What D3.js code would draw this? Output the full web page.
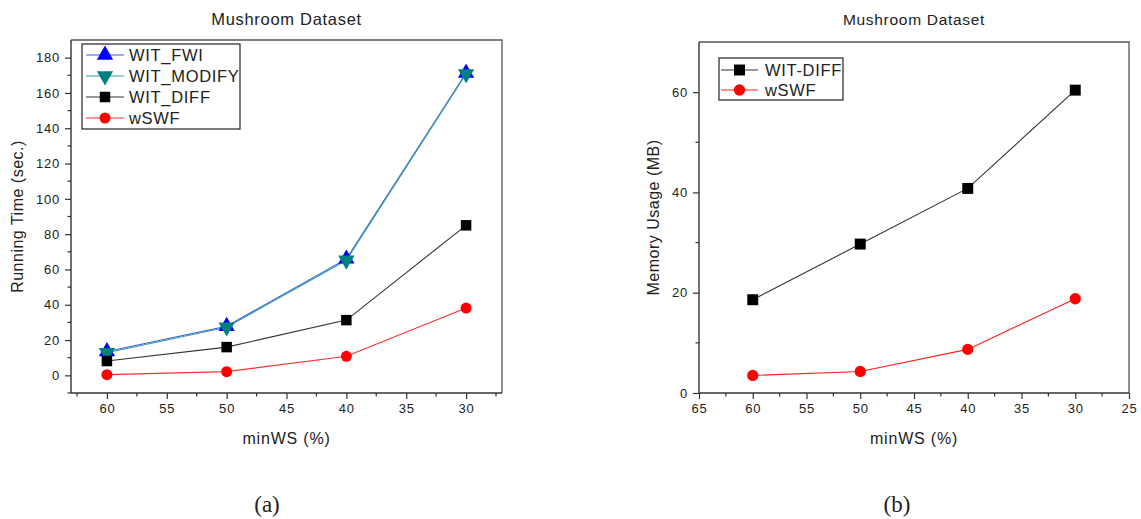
<!DOCTYPE html>
<html><head><meta charset="utf-8">
<script src="https://cdn.jsdelivr.net/npm/d3@7"></script>
<style>
body{margin:0;background:#fff;}
svg{display:block;}
text{font-family:"Liberation Sans",Arial,sans-serif;fill:#222;}
text.cap{font-family:"Liberation Serif","DejaVu Serif",serif;}
</style></head><body>
<svg id="chart" width="1141" height="519"></svg>
<script>
// ---- Data ----
const minWS = [60, 50, 40, 30];
// Chart (a): running time (sec.)
const timeFWI    = [13.5, 27.8, 66, 171.3];
const timeModify = [12.8, 27.3, 65.2, 170.8];
const timeDiff   = [8.1, 16, 31.3, 85];
const timeWSWF   = [0.4, 2.1, 10.8, 38.1];
// Chart (b): memory usage (MB)
const memDiff = [18.6, 29.7, 40.8, 60.4];
const memWSWF = [3.5, 4.3, 8.7, 18.8];
// Tick labels
const ticksAY = [0, 20, 40, 60, 80, 100, 120, 140, 160, 180];
const ticksAX = [60, 55, 50, 45, 40, 35, 30];
const ticksBY = [0, 20, 40, 60];
const ticksBX = [65, 60, 55, 50, 45, 40, 35, 30, 25];

const svg = d3.select("#chart");

function markerPath(shape, size){
  const t = {square:d3.symbolSquare, circle:d3.symbolCircle, tri:d3.symbolTriangle, triDown:d3.symbolTriangle}[shape];
  return d3.symbol().type(t).size(size)();
}

function drawChart(cfg){
  const g = svg.append("g");
  const {x0,x1,y0,y1} = cfg.frame;
  const x = d3.scaleLinear().domain(cfg.xDomain).range([x0,x1]);
  const y = d3.scaleLinear().domain(cfg.yDomain).range([y1,y0]);

  // frame top/right
  g.append("path").attr("d",`M${x0},${y0}H${x1}V${y1}`).attr("fill","none").attr("stroke","#555").attr("stroke-width",1.3);

  // y axis
  const ya = g.append("g").attr("transform",`translate(${x0},0)`);
  ya.call(d3.axisLeft(y).tickValues(cfg.yTicks).tickSize(6).tickPadding(5).tickSizeOuter(0));
  ya.append("g").selectAll("line").data(cfg.yMinor).join("line")
    .attr("x1",0).attr("x2",-3.5).attr("y1",d=>y(d)).attr("y2",d=>y(d)).attr("stroke","#333").attr("stroke-width",1.2);
  // x axis
  const xa = g.append("g").attr("transform",`translate(0,${y1})`);
  xa.call(d3.axisBottom(x).tickValues(cfg.xTicks).tickSize(6).tickPadding(5).tickSizeOuter(0));
  xa.append("g").selectAll("line").data(cfg.xMinor).join("line")
    .attr("y1",0).attr("y2",3.5).attr("x1",d=>x(d)).attr("x2",d=>x(d)).attr("stroke","#333").attr("stroke-width",1.2);

  [ya,xa].forEach(a=>{
    a.select(".domain").attr("stroke","#333").attr("stroke-width",1.4);
    a.selectAll(".tick line").attr("stroke","#333").attr("stroke-width",1.2);
    a.selectAll(".tick text").attr("font-size",13).attr("letter-spacing","0.8px").attr("fill","#222");
  });
  ya.select(".domain").attr("d",`M0,${y0}V${y1}`);
  xa.select(".domain").attr("d",`M${x0},0H${x1}`);

  // title
  g.append("text").attr("x",(x0+x1)/2).attr("y",25).attr("text-anchor","middle")
    .attr("font-size",cfg.titleSize).attr("letter-spacing","0.7px").text(cfg.title);
  // x label
  g.append("text").attr("x",(x0+x1)/2).attr("y",444).attr("text-anchor","middle")
    .attr("font-size",16).attr("letter-spacing","0.8px").text("minWS (%)");
  // y label
  g.append("text").attr("transform",`translate(${cfg.yLabelX},${(y0+y1)/2}) rotate(-90)`)
    .attr("text-anchor","middle").attr("font-size",16).attr("letter-spacing","0.5px").text(cfg.yLabel);
  // caption
  g.append("text").attr("class","cap").attr("x",cfg.capX).attr("y",512).attr("text-anchor","middle")
    .attr("font-size",23).text(cfg.caption);

  // series
  const line = d3.line().x((d,i)=>x(minWS[i])).y(d=>y(d));
  cfg.series.forEach(s=>{
    g.append("path").datum(s.values).attr("d",line).attr("fill","none")
      .attr("stroke",s.lineColor).attr("stroke-width",1.1);
  });
  cfg.series.forEach(s=>{
    g.append("g").selectAll("path").data(s.values).join("path")
      .attr("d",markerPath(s.shape,s.size))
      .attr("transform",(d,i)=>`translate(${x(minWS[i])},${y(d)})${s.shape==="triDown"?" rotate(180)":""}`)
      .attr("fill",s.color);
  });

  // legend
  const L = cfg.legend;
  g.append("rect").attr("x",L.x).attr("y",L.y).attr("width",L.w).attr("height",L.h)
    .attr("fill","#fff").attr("stroke","#222").attr("stroke-width",1.2);
  cfg.series.forEach((s,i)=>{
    const cy = L.y + L.first + i*L.step;
    g.append("line").attr("x1",L.x+L.lx0).attr("x2",L.x+L.lx1).attr("y1",cy).attr("y2",cy)
      .attr("stroke",s.lineColor).attr("stroke-width",1.1);
    g.append("path").attr("d",markerPath(s.shape,s.size))
      .attr("transform",`translate(${L.x+(L.lx0+L.lx1)/2},${cy})${s.shape==="triDown"?" rotate(180)":""}`)
      .attr("fill",s.color);
    g.append("text").attr("x",L.x+L.tx).attr("y",cy+6).attr("font-size",16.5)
      .attr("letter-spacing","0.7px").text(s.name);
  });
}

drawChart({
  frame:{x0:71,x1:502,y0:40,y1:393},
  xDomain:[63,27], yDomain:[-10,190],
  xTicks:ticksAX, xMinor:[62.5,57.5,52.5,47.5,42.5,37.5,32.5,27.5],
  yTicks:ticksAY, yMinor:[-10,10,30,50,70,90,110,130,150,170],
  title:"Mushroom Dataset", titleSize:16.5, yLabel:"Running Time (sec.)", yLabelX:23, caption:"(a)", capX:267,
  series:[
    {name:"WIT_FWI", values:timeFWI, color:"#0000ff", lineColor:"#3a5fe0", shape:"tri", size:115},
    {name:"WIT_MODIFY", values:timeModify, color:"#008080", lineColor:"#3a9aa8", shape:"triDown", size:115},
    {name:"WIT_DIFF", values:timeDiff, color:"#000", lineColor:"#333", shape:"square", size:110},
    {name:"wSWF", values:timeWSWF, color:"#ff0000", lineColor:"#ff3030", shape:"circle", size:95}
  ],
  legend:{x:82,y:44,w:158,h:85,first:11,step:21,lx0:4,lx1:42,tx:47}
});

drawChart({
  frame:{x0:699,x1:1129,y0:42,y1:393},
  xDomain:[65,25], yDomain:[0,70],
  xTicks:ticksBX, xMinor:[62.5,57.5,52.5,47.5,42.5,37.5,32.5,27.5],
  yTicks:ticksBY, yMinor:[10,30,50],
  title:"Mushroom Dataset", titleSize:15.5, yLabel:"Memory Usage (MB)", yLabelX:659, caption:"(b)", capX:897,
  series:[
    {name:"WIT-DIFF", values:memDiff, color:"#000", lineColor:"#333", shape:"square", size:120},
    {name:"wSWF", values:memWSWF, color:"#ff0000", lineColor:"#ff2020", shape:"circle", size:100}
  ],
  legend:{x:719,y:58,w:124,h:42,first:12,step:20,lx0:2,lx1:39,tx:46}
});
</script>
</body></html>
